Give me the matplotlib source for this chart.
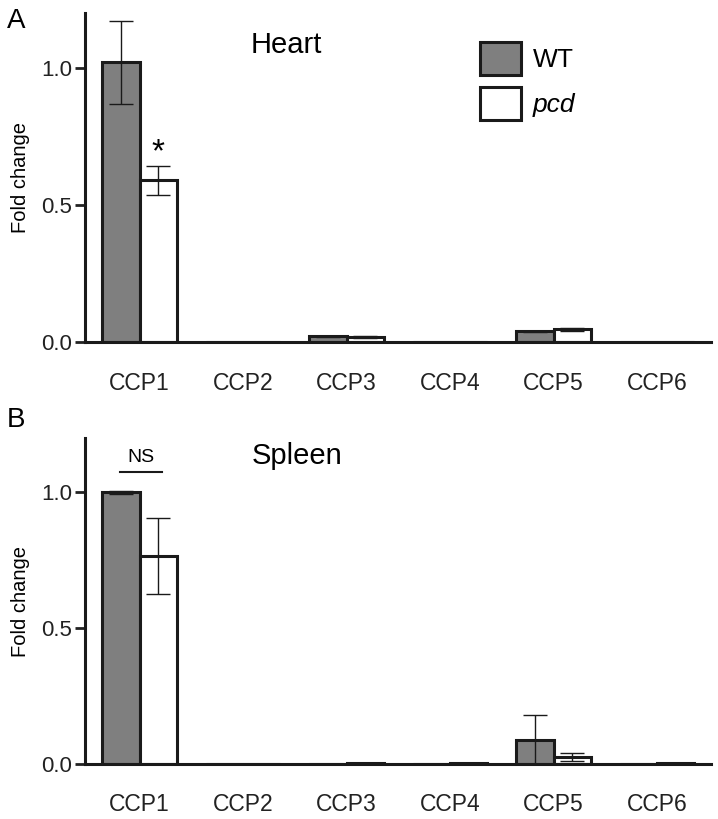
import matplotlib.pyplot as plt
import numpy as np

plt.rcParams['font.family'] = ['Liberation Sans', 'DejaVu Sans']

genes = ["CCP1", "CCP2", "CCP3", "CCP4", "CCP5", "CCP6"]

heart_wt = [1.02, 0.003, 0.022, 0.0, 0.040, 0.0]
heart_wt_err = [0.15, 0.0, 0.002, 0.0, 0.003, 0.0]
heart_pcd = [0.59, 0.003, 0.020, 0.0, 0.047, 0.0]
heart_pcd_err = [0.053, 0.0, 0.003, 0.0, 0.004, 0.0]

spleen_wt = [1.0, 0.0, 0.0, 0.0, 0.09, 0.0]
spleen_wt_err = [0.005, 0.0, 0.0, 0.0, 0.09, 0.0]
spleen_pcd = [0.765, 0.0, 0.003, 0.003, 0.025, 0.003]
spleen_pcd_err = [0.14, 0.0, 0.0, 0.0, 0.015, 0.0]

bar_w = 0.36
grey = "#7f7f7f"
edge = "#1a1a1a"


def panel(ax, wt, wt_err, pcd, pcd_err, title, title_x, title_y):
    x = np.arange(len(genes))
    b1 = ax.bar(x - bar_w / 2, wt, bar_w, color=grey, edgecolor=edge, linewidth=2.2, label="WT", zorder=2)
    b2 = ax.bar(x + bar_w / 2, pcd, bar_w, color="white", edgecolor=edge, linewidth=2.2, label="pcd", zorder=2)
    for xs, vals, errs in [(x - bar_w / 2, wt, wt_err), (x + bar_w / 2, pcd, pcd_err)]:
        for xi, v, e in zip(xs, vals, errs):
            if e > 0:
                ax.errorbar(xi, v, yerr=e, fmt="none", ecolor=edge, elinewidth=1.0,
                            capsize=8.5, capthick=1.0, zorder=3)
    ax.set_xlim(-0.53, 5.52)
    ax.set_ylim(0, 1.2)
    ax.set_yticks([0.0, 0.5, 1.0])
    ax.set_yticklabels(["0.0", "0.5", "1.0"])
    ax.set_xticks(x)
    ax.set_xticklabels(genes)
    ax.tick_params(axis="x", length=0, pad=21, labelsize=16.5, colors="#222222")
    ax.tick_params(axis="y", length=7, width=2, pad=2, labelsize=16, colors="#222222")
    ax.spines["top"].set_visible(False)
    ax.spines["right"].set_visible(False)
    ax.spines["left"].set_linewidth(2.2)
    ax.spines["bottom"].set_linewidth(2.2)
    ax.spines["left"].set_color(edge)
    ax.spines["bottom"].set_color(edge)
    ax.set_ylabel("Fold change", fontsize=14.5, labelpad=8)
    ax.text(title_x, title_y, title, fontsize=21, ha="center", va="center")
    return b1, b2


fig = plt.figure(figsize=(7.18, 8.19), dpi=100)
ax1 = fig.add_axes([0.118, 0.582, 0.872, 0.402])
ax2 = fig.add_axes([0.118, 0.067, 0.872, 0.398])

b1, b2 = panel(ax1, heart_wt, heart_wt_err, heart_pcd, heart_pcd_err, "Heart", 1.42, 1.085)
panel(ax2, spleen_wt, spleen_wt_err, spleen_pcd, spleen_pcd_err, "Spleen", 1.52, 1.136)

ax1.text(bar_w / 2, 0.69, "*", fontsize=24, ha="center", va="center")

ax2.plot([-0.19, 0.22], [1.077, 1.077], color=edge, linewidth=1.5)
ax2.text(0.015, 1.13, "NS", fontsize=14, ha="center", va="center")

leg = ax1.legend([b1, b2], ["WT", "pcd"], loc="upper left", bbox_to_anchor=(0.593, 0.985),
                 frameon=False, fontsize=19, handlelength=1.55, handleheight=1.55,
                 handletextpad=0.45, labelspacing=0.45)
leg.get_texts()[1].set_style("italic")

fig.text(0.01, 0.974, "A", fontsize=20, ha="left", va="center")
fig.text(0.01, 0.487, "B", fontsize=20, ha="left", va="center")

fig.savefig("out.png", dpi=100)
